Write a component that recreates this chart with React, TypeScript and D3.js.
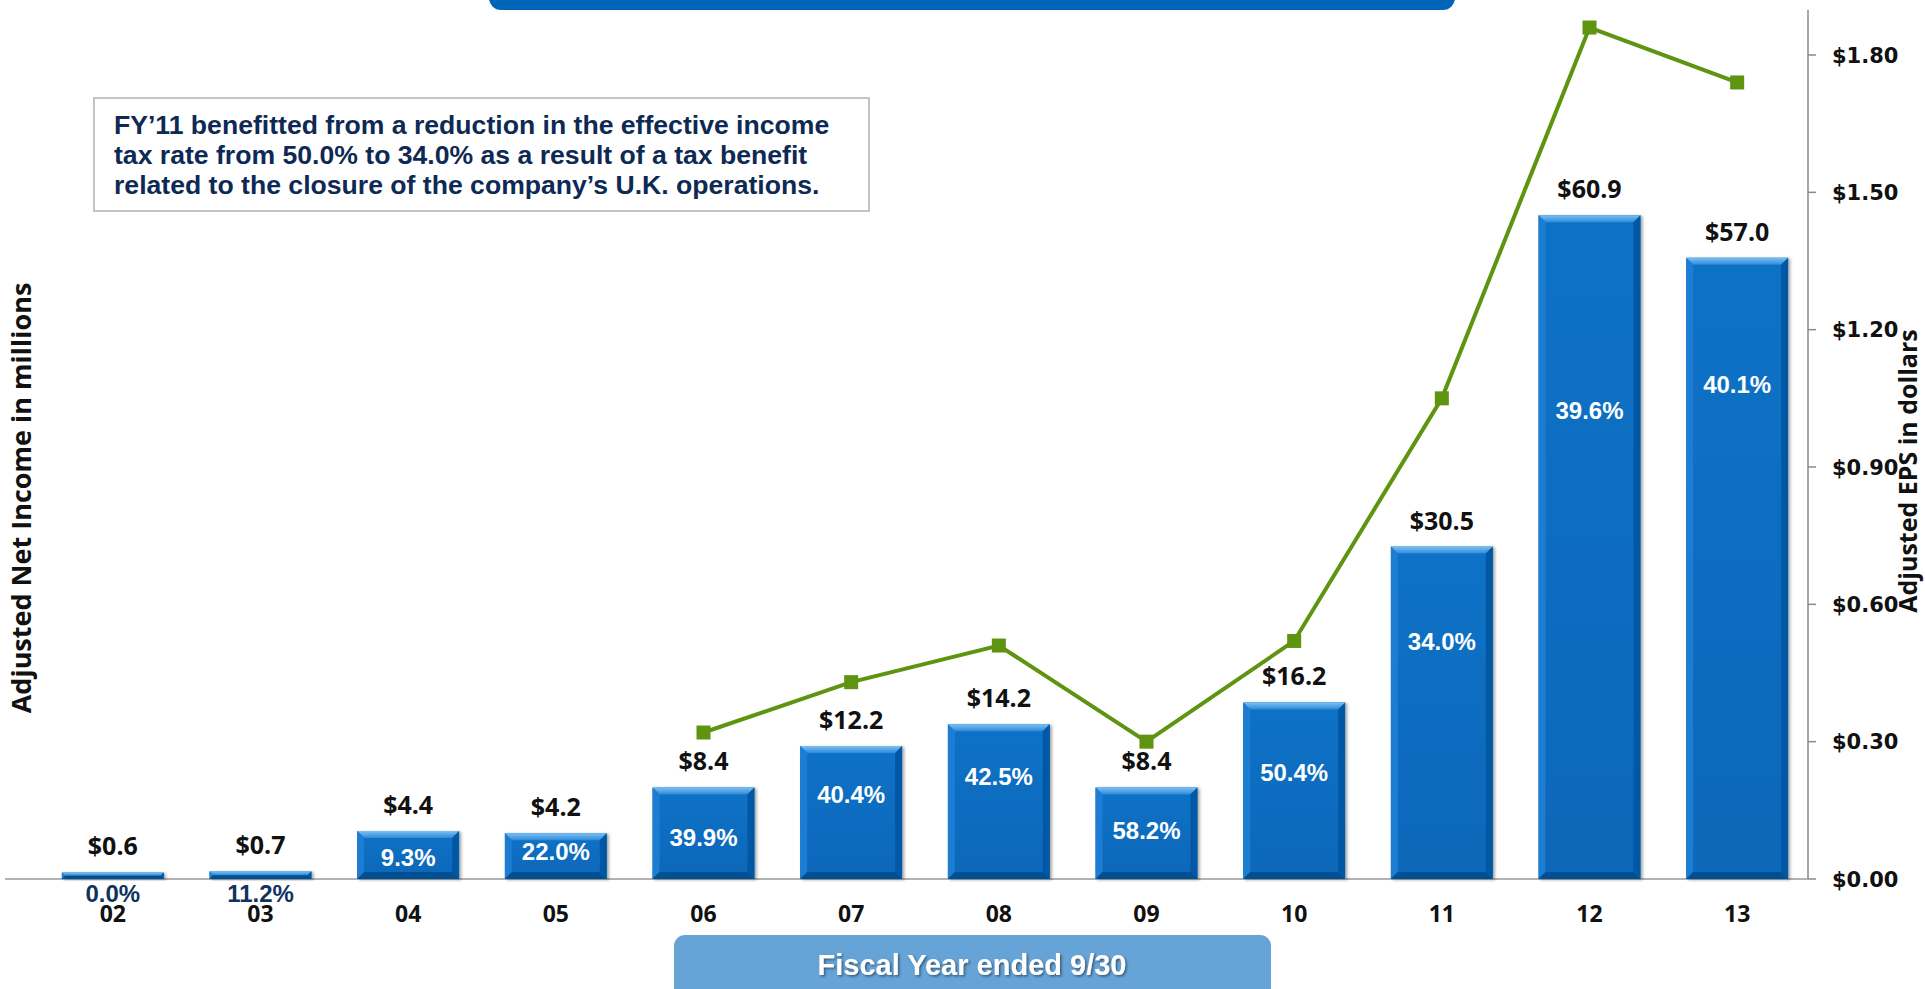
import React from "react";
import * as d3 from "d3";

const years = ["02", "03", "04", "05", "06", "07", "08", "09", "10", "11", "12", "13"];
const netIncome = [0.6, 0.7, 4.4, 4.2, 8.4, 12.2, 14.2, 8.4, 16.2, 30.5, 60.9, 57.0];
const netIncomeLabels = ["$0.6", "$0.7", "$4.4", "$4.2", "$8.4", "$12.2", "$14.2", "$8.4", "$16.2", "$30.5", "$60.9", "$57.0"];
const taxRate = ["0.0%", "11.2%", "9.3%", "22.0%", "39.9%", "40.4%", "42.5%", "58.2%", "50.4%", "34.0%", "39.6%", "40.1%"];
// level (in $M units) at which each tax-rate label is centred
const rateLabelLevel = [-1.3, -1.3, 2.0, 2.5, 3.8, 7.8, 9.4, 4.5, 9.8, 21.8, 43.0, 45.4];
const epsYears = ["06", "07", "08", "09", "10", "11", "12", "13"];
const eps = [0.32, 0.43, 0.51, 0.30, 0.52, 1.05, 1.86, 1.74];
const epsTicks = [0, 0.3, 0.6, 0.9, 1.2, 1.5, 1.8];
const noteLines = [
  "FY\u201911 benefitted from a reduction in the effective income",
  "tax rate from 50.0% to 34.0% as a result of a tax benefit",
  "related to the closure of the company\u2019s U.K. operations.",
];

const W = 1925;
const H = 989;
const baseY = 879;

export default function App() {
  const x = d3.scaleBand<string>().domain(years).range([39, 1811]).paddingInner(0.31).paddingOuter(0.155);
  const yL = d3.scaleLinear().domain([0, 80]).range([baseY, 7]);
  const yR = d3.scaleLinear().domain([0, 1.8]).range([baseY, 55]);
  const bw = x.bandwidth();
  const axisX = 1808;

  const line = d3
    .line<number>()
    .x((_, i) => (x(epsYears[i]) as number) + bw / 2)
    .y((d) => yR(d));

  const labelFont = "'Open Sans', sans-serif";
  const arial = "'Liberation Sans', Arial, sans-serif";

  return (
    <svg width={W} height={H} style={{ position: "fixed", left: 0, top: 0, background: "#fff" }}>
      <defs>
        <linearGradient id="face" x1="0" y1="0" x2="0" y2="1">
          <stop offset="0" stopColor="#0C72C6" />
          <stop offset="1" stopColor="#0867B9" />
        </linearGradient>
        <linearGradient id="topBevel" x1="0" y1="0" x2="0" y2="1">
          <stop offset="0" stopColor="#7CC0F5" />
          <stop offset="1" stopColor="#2F8AD8" />
        </linearGradient>
        <filter id="shadow" x="-10%" y="-10%" width="130%" height="130%">
          <feDropShadow dx="2" dy="1" stdDeviation="1.5" floodColor="#000" floodOpacity="0.35" />
        </filter>
        <filter id="txtShadow" x="-5%" y="-20%" width="110%" height="160%">
          <feDropShadow dx="1.5" dy="1.5" stdDeviation="1" floodColor="#000" floodOpacity="0.45" />
        </filter>
      </defs>

      {/* top banner (cropped) */}
      <rect x={489} y={-40} width={966} height={50} rx={12} fill="#0064B8" />

      {/* baseline */}
      <line x1={5} x2={axisX} y1={baseY} y2={baseY} stroke="#9a9a9a" strokeWidth={1.5} />

      {/* bars */}
      {netIncome.map((v, i) => {
        const x0 = x(years[i]) as number;
        const y0 = yL(v);
        const h = baseY - y0;
        const b = Math.min(7, h / 2);
        const x1 = x0 + bw;
        const y1 = baseY;
        return (
          <g key={years[i]} filter="url(#shadow)">
            <rect x={x0} y={y0} width={bw} height={h} fill="url(#face)" />
            <polygon points={`${x0},${y0} ${x1},${y0} ${x1 - b},${y0 + b} ${x0 + b},${y0 + b}`} fill="url(#topBevel)" />
            <polygon points={`${x0},${y0} ${x0 + b},${y0 + b} ${x0 + b},${y1 - b} ${x0},${y1}`} fill="#1A7DD2" />
            <polygon points={`${x1},${y0} ${x1 - b},${y0 + b} ${x1 - b},${y1 - b} ${x1},${y1}`} fill="#0659A4" />
            <polygon points={`${x0},${y1} ${x0 + b},${y1 - b} ${x1 - b},${y1 - b} ${x1},${y1}`} fill="#054F92" />
          </g>
        );
      })}

      {/* value labels */}
      {netIncome.map((v, i) => (
        <text
          key={"v" + i}
          x={(x(years[i]) as number) + bw / 2}
          y={yL(v) - 17}
          textAnchor="middle"
          fontFamily={labelFont}
          fontWeight={700}
          fontSize={25}
          fill="#111"
        >
          {netIncomeLabels[i]}
        </text>
      ))}

      {/* tax rate labels */}
      {taxRate.map((t, i) => (
        <text
          key={"t" + i}
          x={(x(years[i]) as number) + bw / 2}
          y={yL(rateLabelLevel[i])}
          dy="0.36em"
          textAnchor="middle"
          fontFamily={arial}
          fontWeight={700}
          fontSize={24}
          fill={rateLabelLevel[i] < 0 ? "#0F3360" : "#fff"}
        >
          {t}
        </text>
      ))}

      {/* category labels */}
      {years.map((yr) => (
        <text
          key={"c" + yr}
          x={(x(yr) as number) + bw / 2}
          y={922}
          textAnchor="middle"
          fontFamily={labelFont}
          fontWeight={700}
          fontSize={23}
          fill="#111"
        >
          {yr}
        </text>
      ))}

      {/* EPS line */}
      <path d={line(eps) || ""} fill="none" stroke="#5E9410" strokeWidth={4} />
      {eps.map((v, i) => (
        <rect
          key={"m" + i}
          x={(x(epsYears[i]) as number) + bw / 2 - 7}
          y={yR(v) - 7}
          width={14}
          height={14}
          fill="#5E9410"
        />
      ))}

      {/* right axis */}
      <line x1={axisX} x2={axisX} y1={10} y2={baseY} stroke="#8a8a8a" strokeWidth={1.5} />
      {epsTicks.map((t) => (
        <g key={"r" + t}>
          <line x1={axisX} x2={axisX + 8} y1={yR(t)} y2={yR(t)} stroke="#8a8a8a" strokeWidth={1.5} />
          <text
            x={1832}
            y={yR(t)}
            dy="0.36em"
            fontFamily="'DejaVu Sans', Verdana, sans-serif"
            fontWeight={700}
            fontSize={21}
            fill="#111"
          >
            {d3.format("$.2f")(t)}
          </text>
        </g>
      ))}

      {/* axis titles */}
      <text
        transform={`translate(31, 498) rotate(-90)`}
        textAnchor="middle"
        fontFamily={labelFont}
        fontWeight={700}
        fontSize={27}
        fill="#111"
      >
        Adjusted Net Income in millions
      </text>
      <text
        transform={`translate(1917, 471) rotate(-90)`}
        textAnchor="middle"
        fontFamily={labelFont}
        fontWeight={700}
        fontSize={25}
        fill="#111"
      >
        Adjusted EPS in dollars
      </text>

      {/* note box */}
      <rect x={94} y={98} width={775} height={113} fill="#fff" stroke="#c4c4c4" strokeWidth={2} />
      {noteLines.map((l, i) => (
        <text key={"n" + i} x={114} y={134 + i * 30} fontFamily={arial} fontWeight={700} fontSize={26.6} fill="#0E2A54">
          {l}
        </text>
      ))}

      {/* bottom banner */}
      <rect x={674} y={935} width={597} height={70} rx={11} fill="#66A3D6" />
      <text
        x={972}
        y={975}
        textAnchor="middle"
        fontFamily={arial}
        fontWeight={700}
        fontSize={29}
        fill="#fff"
        filter="url(#txtShadow)"
      >
        Fiscal Year ended 9/30
      </text>
    </svg>
  );
}
